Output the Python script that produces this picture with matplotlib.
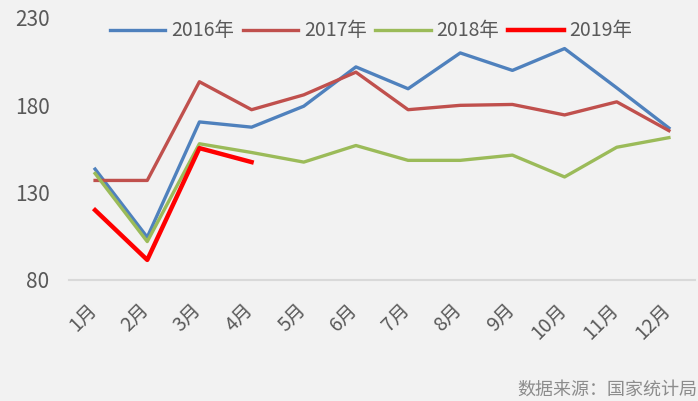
import matplotlib
matplotlib.use('Agg')
import matplotlib.pyplot as plt
from matplotlib.transforms import ScaledTranslation

plt.rcParams['font.family'] = ['Noto Sans CJK SC', 'DejaVu Sans']

# データ
months = ['1月', '2月', '3月', '4月', '5月', '6月', '7月', '8月', '9月', '10月', '11月', '12月']
y2016 = [143.5, 104.5, 170.5, 167.5, 179.5, 202, 189.5, 210, 200, 212.5, 190, 167]
y2017 = [137, 137, 193.5, 177.5, 186, 199, 177.5, 180, 180.5, 174.5, 182, 165.5]
y2018 = [141, 102, 158, 153, 147.5, 157, 148.5, 148.5, 151.5, 139, 156, 161.5]
y2019 = [120, 91.5, 155.5, 147.5]
yticks = [80, 130, 180, 230]

bg = '#f2f2f2'
txt = '#595959'

fig = plt.figure(figsize=(6.98, 4.01), dpi=100, facecolor=bg)
ax = fig.add_axes([69/698, 1-280/401, (695-69)/698, (280-18)/401])
ax.set_facecolor(bg)

x = list(range(len(months)))
ax.plot(x, y2016, color='#4f81bd', lw=2.4, label='2016年')
ax.plot(x, y2017, color='#c0504d', lw=2.4, label='2017年')
ax.plot(x, y2018, color='#9bbb59', lw=2.4, label='2018年')
ax.plot(x[:len(y2019)], y2019, color='#ff0000', lw=3.2, label='2019年')

ax.set_xlim(-0.5, len(months) - 0.5)
ax.set_ylim(80, 230)
ax.set_yticks(yticks)
ax.set_xticks(x)
ax.set_xticklabels(months, rotation=45, ha='right', va='top', rotation_mode='anchor')
ax.tick_params(axis='y', length=0, pad=14, labelsize=15, labelcolor=txt)
ax.tick_params(axis='x', length=0, pad=14, labelsize=14, labelcolor=txt)
# 少し左へずらす
off = ScaledTranslation(-6/72, 0, fig.dpi_scale_trans)
for lb in ax.get_xticklabels():
    lb.set_transform(lb.get_transform() + off)

for s in ['top', 'right', 'left']:
    ax.spines[s].set_visible(False)
ax.spines['bottom'].set_color('#d9d9d9')
ax.spines['bottom'].set_linewidth(1.5)

#凡例
leg = ax.legend(loc='upper center', bbox_to_anchor=(371/698, 1 - 3/401), bbox_transform=fig.transFigure,
                ncol=4, frameon=False, fontsize=14, handlelength=2.85, handletextpad=0.3,
                columnspacing=0.45, labelcolor=txt)

fig.text(697/698, 1 - 390/401, '数据来源：国家统计局', fontsize=13, color='#8c8c8c',
         ha='right', va='center')

fig.savefig('out.png', dpi=100, facecolor=bg)
